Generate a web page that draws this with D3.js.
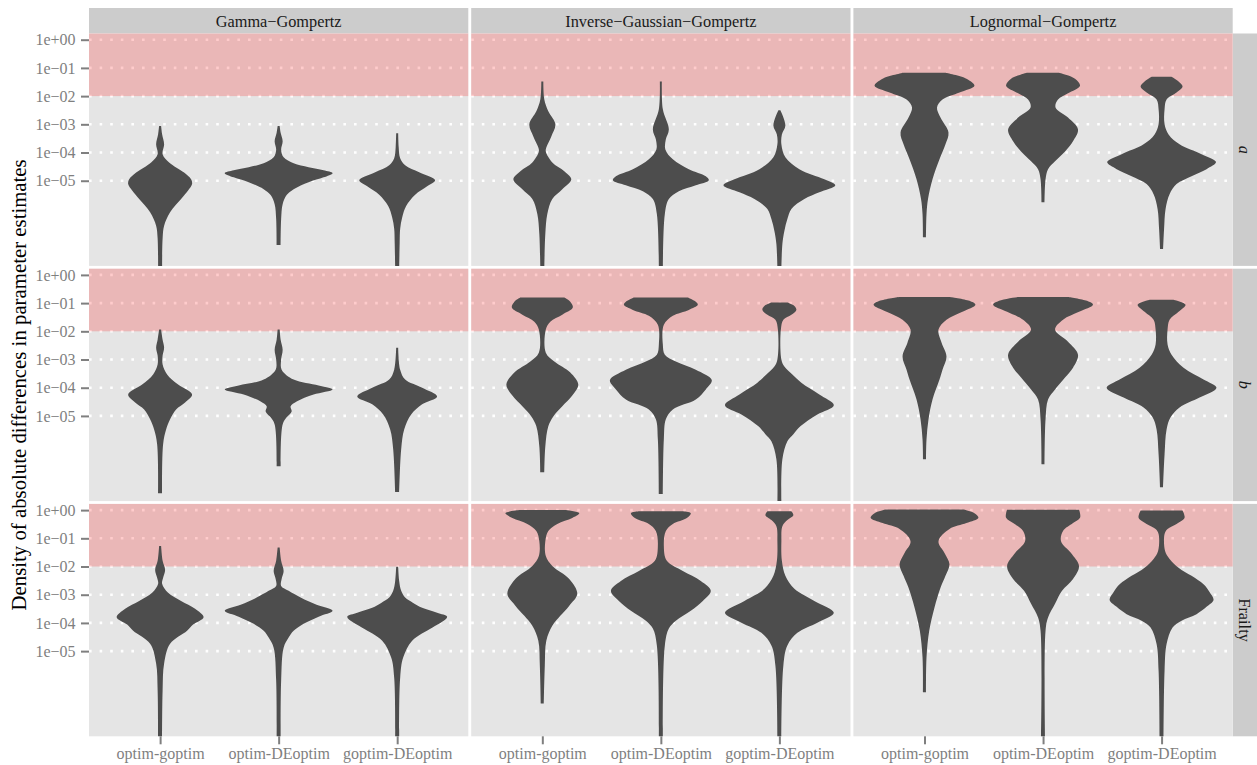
<!DOCTYPE html>
<html>
<head>
<meta charset="utf-8">
<script src="https://cdn.jsdelivr.net/npm/d3@7"></script>
<style>
  body { margin: 0; background: #ffffff; }
  svg { display: block; }
  text { font-family: 'Liberation Serif', 'Times New Roman', serif; }
</style>
</head>
<body>
<svg id="chart" width="1257" height="765"></svg>
<script>
// Facet columns (frailty model) and rows (parameter)
const models = ["Gamma−Gompertz", "Inverse−Gaussian−Gompertz", "Lognormal−Gompertz"];
const parameters = ["a", "b", "Frailty"];
const parameterItalic = [true, true, false];
const methods = ["optim-goptim", "optim-DEoptim", "goptim-DEoptim"];

// Y axis breaks and their labels
const yTicks = [1e0, 1e-1, 1e-2, 1e-3, 1e-4, 1e-5];
const yTickLabels = ["1e+00", "1e−01", "1e−02", "1e−03", "1e−04", "1e−05"];
const threshold = 1e-2;

// Violin profiles: [log10 |difference|, kernel density (relative units)], one per method
const gammaA = [
  [[-3.06,1],[-3.35,2],[-3.71,4],[-4.06,2.5],[-4.35,9],[-4.71,24],[-4.95,31],[-5.12,32],[-5.35,28],[-5.65,21],[-6.12,10],[-6.6,4],[-7.05,2.5],[-8.1,2]],
  [[-3.06,1],[-3.3,2],[-3.6,4],[-3.9,2.5],[-4.17,5],[-4.38,15],[-4.52,30],[-4.63,45],[-4.73,54],[-4.88,45],[-5.05,30],[-5.3,15],[-5.51,8],[-5.83,4],[-6.36,2.5],[-7.28,2]],
  [[-3.32,1],[-3.8,1.5],[-4.2,3],[-4.45,8],[-4.7,22],[-4.98,38],[-5.2,30],[-5.5,18],[-5.9,9],[-6.3,5],[-6.7,3],[-7.2,2.5],[-8.1,2]]
];
const invGaussA = [
  [[-1.48,1],[-2.12,2],[-2.54,6],[-3.0,13],[-3.43,9],[-3.82,4],[-3.96,3.5],[-4.35,10],[-4.66,22],[-4.95,29],[-5.3,20],[-5.65,10],[-6.18,5],[-6.89,3],[-8.1,2]],
  [[-1.48,1],[-2.47,2],[-3.18,8],[-3.53,5],[-3.89,4.5],[-4.24,12],[-4.59,28],[-4.84,45],[-4.98,48],[-5.16,35],[-5.37,18],[-5.65,8],[-6.18,4],[-8.1,2]],
  [[-2.5,1],[-3.04,6],[-3.36,2.5],[-3.71,2],[-4.17,6],[-4.59,20],[-4.95,45],[-5.16,56],[-5.41,40],[-5.65,25],[-6.0,12],[-6.36,8],[-6.78,5],[-7.24,3],[-8.1,2]]
];
const lognormA = [
  [[-1.17,21],[-1.38,42],[-1.63,50],[-1.87,35],[-2.12,18],[-2.4,12.5],[-2.76,16],[-3.29,24],[-3.71,21],[-4.24,15],[-4.95,8],[-5.65,3.5],[-6.18,2],[-7.0,1.5]],
  [[-1.17,16],[-1.38,32],[-1.63,37],[-1.9,25],[-2.12,15],[-2.4,12.5],[-2.76,25],[-3.18,35],[-3.6,30],[-3.96,22],[-4.31,12],[-4.59,5],[-4.95,2.5],[-5.76,1.5]],
  [[-1.31,10],[-1.48,17],[-1.66,21],[-1.87,15],[-2.12,5],[-2.47,3],[-3.0,3],[-3.36,7],[-3.71,18],[-4.06,40],[-4.34,54.5],[-4.59,45],[-4.84,30],[-5.12,15],[-5.48,8],[-6.0,4],[-6.71,2.5],[-7.42,1.5]]
];
const gammaB = [
  [[-1.94,1],[-2.3,2.5],[-2.58,4],[-2.86,2.5],[-3.18,2.5],[-3.53,7],[-3.89,18],[-4.24,32],[-4.52,25],[-4.77,16],[-5.12,10],[-5.48,6],[-6.0,3],[-7.74,2]],
  [[-1.94,1],[-2.3,2],[-2.65,4],[-3.0,2.5],[-3.36,3],[-3.71,15],[-3.92,40],[-4.06,54],[-4.24,35],[-4.49,18],[-4.66,12],[-4.84,13],[-5.05,8],[-5.3,4],[-6.78,2]],
  [[-2.58,1],[-3.36,3],[-3.71,8],[-4.0,25],[-4.31,40],[-4.59,25],[-4.95,14],[-5.48,7],[-6.18,4],[-7.7,2]]
];
const invGaussB = [
  [[-0.8,22],[-0.95,28],[-1.16,30.5],[-1.41,20],[-1.66,8],[-1.94,3.5],[-2.76,3.5],[-3.07,12],[-3.46,28],[-3.89,36],[-4.28,30],[-4.66,20],[-5.02,11],[-5.37,6],[-6.08,3],[-7.0,2]],
  [[-0.8,27],[-0.95,35],[-1.06,37],[-1.24,28],[-1.45,12],[-1.77,3],[-2.47,2],[-2.83,4],[-3.07,15],[-3.36,35],[-3.73,51],[-4.06,45],[-4.42,35],[-4.77,12],[-5.12,5],[-5.83,3],[-7.77,2]],
  [[-0.98,8],[-1.1,15],[-1.24,17],[-1.41,12],[-1.59,4],[-1.94,1.5],[-3.0,2],[-3.25,5],[-3.53,13],[-3.82,22],[-4.24,40],[-4.62,54.5],[-4.95,38],[-5.37,21],[-5.65,14],[-5.9,8],[-6.54,3],[-8.1,2]]
];
const lognormB = [
  [[-0.78,25],[-0.92,45],[-1.06,51],[-1.31,38],[-1.59,22],[-1.94,14],[-2.4,17],[-2.9,22],[-3.36,18],[-3.71,15],[-4.42,8],[-5.12,4],[-5.83,2],[-6.54,1.5]],
  [[-0.78,25],[-0.92,44],[-1.06,50],[-1.31,36],[-1.59,20],[-1.94,12],[-2.37,25],[-2.83,35],[-3.29,30],[-3.64,22],[-4.06,12],[-4.42,5],[-5.12,2.5],[-6.71,1.5]],
  [[-0.88,12],[-1.06,24],[-1.31,17],[-1.59,8],[-1.94,6],[-2.47,6],[-2.83,10],[-3.29,22],[-3.71,42],[-4.0,55],[-4.35,38],[-4.7,18],[-5.05,9],[-5.48,5],[-6.36,3],[-7.53,1.5]]
];
const gammaFrailty = [
  [[-1.27,1],[-1.8,2.5],[-2.12,5],[-2.4,3],[-2.61,2],[-2.93,8],[-3.22,21],[-3.5,35],[-3.8,43.5],[-4.06,33],[-4.28,27],[-4.74,10],[-5.44,4],[-6.4,2.5],[-8.1,2]],
  [[-1.33,1],[-1.8,2.5],[-2.16,5],[-2.44,3],[-2.69,2.5],[-2.86,10],[-3.1,22],[-3.36,38],[-3.57,54],[-3.78,40],[-4.03,25],[-4.28,15],[-4.52,10],[-4.88,5],[-6.04,2.5],[-8.1,2]],
  [[-2.01,1],[-2.51,2],[-2.86,4],[-3.1,8],[-3.29,16],[-3.46,25],[-3.64,40],[-3.78,50],[-3.96,45],[-4.17,35],[-4.63,15],[-5.23,6],[-5.94,3],[-8.1,2]]
];
const invGaussFrailty = [
  [[0.0,23],[-0.11,37],[-0.28,30],[-0.49,15],[-0.74,6],[-1.1,3],[-1.63,3.5],[-1.98,10],[-2.44,27],[-2.97,35],[-3.39,27],[-3.75,18],[-4.1,10],[-4.63,4],[-5.51,2.5],[-6.86,1.5]],
  [[-0.04,22],[-0.11,30],[-0.28,26],[-0.49,12],[-0.74,5],[-1.27,3],[-1.8,6],[-2.16,22],[-2.51,40],[-2.86,50],[-3.22,42],[-3.57,30],[-3.92,15],[-4.2,8],[-4.8,4],[-8.1,2]],
  [[-0.04,12],[-0.18,14],[-0.35,8],[-0.57,3],[-1.1,2],[-1.8,2.5],[-2.33,6],[-2.79,15],[-3.22,35],[-3.64,54.5],[-3.99,38],[-4.35,18],[-4.8,8],[-5.51,4],[-8.1,2]]
];
const lognormFrailty = [
  [[0.02,39],[-0.11,50],[-0.27,54],[-0.46,42],[-0.67,25],[-1.1,14],[-1.52,20],[-1.92,25],[-2.33,21],[-2.75,16],[-3.45,10],[-4.28,4.7],[-5.22,2],[-6.46,1.5]],
  [[0.01,36],[-0.11,37],[-0.27,37],[-0.46,30],[-0.74,20],[-1.1,18],[-1.52,28],[-1.98,36],[-2.44,30],[-2.86,19],[-3.32,12],[-3.81,5],[-4.28,2.5],[-8.1,2]],
  [[-0.01,21],[-0.27,23],[-0.49,15],[-0.67,6],[-0.85,3],[-1.45,3.5],[-1.73,8],[-2.04,17],[-2.33,30],[-2.63,42],[-2.9,48],[-3.19,52],[-3.43,45],[-3.69,35],[-3.92,20],[-4.16,11],[-4.75,5],[-5.7,3],[-8.1,2]]
];

// rows = parameters, columns = models
const panelData = [
  [gammaA, invGaussA, lognormA],
  [gammaB, invGaussB, lognormB],
  [gammaFrailty, invGaussFrailty, lognormFrailty]
];

// ---- layout ----
const svg = d3.select("#chart");
const plotLeft = 89, plotTop = 33.5;
const panelW = 379.3, panelH = 232.4, gapX = 2.9, gapY = 2.8;
const stripTop = 8, stripW = 24.5;
const grey50 = "#7f7f7f";
const serif = "'Liberation Serif', 'Times New Roman', serif";

const x = d3.scalePoint().domain(methods).range([0, panelW]).padding(0.6);
const y = d3.scaleLog().domain([Math.pow(10, -8.02), Math.pow(10, 0.22)]).range([panelH, 0]);
const w = d3.scaleLinear().domain([0, 54]).range([0, 0.455 * x.step()]);

const panelX = c => plotLeft + c * (panelW + gapX);
const panelY = r => plotTop + r * (panelH + gapY);

const violin = cx => d3.area()
  .curve(d3.curveCatmullRom.alpha(0.5))
  .y(d => y(Math.pow(10, d[0])))
  .x0(d => cx - w(d[1]))
  .x1(d => cx + w(d[1]));

const defs = svg.append("defs");

// top strips
models.forEach((m, c) => {
  const g = svg.append("g").attr("transform", `translate(${panelX(c)},${stripTop})`);
  g.append("rect").attr("width", panelW).attr("height", plotTop - stripTop).attr("fill", "#cccccc");
  g.append("text").attr("x", panelW / 2).attr("y", 18.7)
    .attr("text-anchor", "middle").attr("font-size", 16.3).attr("fill", "#1a1a1a").text(m);
});

// right strips
parameters.forEach((p, r) => {
  const g = svg.append("g").attr("transform", `translate(${panelX(2) + panelW},${panelY(r)})`);
  g.append("rect").attr("width", stripW).attr("height", panelH).attr("fill", "#cccccc");
  g.append("text")
    .attr("transform", `translate(${stripW / 2 - 0.5},${panelH / 2}) rotate(90)`)
    .attr("text-anchor", "middle").attr("dy", "0.32em")
    .attr("font-size", 16.3).attr("fill", "#1a1a1a")
    .attr("font-style", parameterItalic[r] ? "italic" : "normal")
    .text(p);
});

// panels
parameters.forEach((p, r) => {
  models.forEach((m, c) => {
    const g = svg.append("g").attr("transform", `translate(${panelX(c)},${panelY(r)})`);
    const clipId = `clip-${r}-${c}`;
    defs.append("clipPath").attr("id", clipId)
      .append("rect").attr("width", panelW).attr("height", panelH);

    g.append("rect").attr("width", panelW).attr("height", panelH).attr("fill", "#e5e5e5");

    // dotted major grid
    g.selectAll("line.grid").data(yTicks).join("line")
      .attr("class", "grid")
      .attr("x1", 0).attr("x2", panelW)
      .attr("y1", d => y(d)).attr("y2", d => y(d))
      .attr("stroke", "#ffffff").attr("stroke-width", 2.6)
      .attr("stroke-dasharray", "2.6 8");

    // region above the tolerance threshold
    g.append("rect")
      .attr("x", 0).attr("width", panelW)
      .attr("y", 0).attr("height", y(threshold))
      .attr("fill", "#ff0000").attr("fill-opacity", 0.2);

    // violins
    const vg = g.append("g").attr("clip-path", `url(#${clipId})`);
    panelData[r][c].forEach((profile, i) => {
      vg.append("path")
        .attr("d", violin(x(methods[i]))(profile))
        .attr("fill", "#4d4d4d");
    });

    // left axis on first column
    if (c === 0) {
      const ax = g.append("g").call(
        d3.axisLeft(y).tickValues(yTicks)
          .tickFormat((d, i) => yTickLabels[i])
          .tickSize(8).tickPadding(5.5)
      );
      ax.select(".domain").remove();
      ax.selectAll("line").attr("stroke", grey50).attr("stroke-width", 2);
      ax.selectAll("text").attr("fill", grey50).attr("font-size", 16).attr("font-family", serif);
    }

    // bottom axis on last row
    if (r === parameters.length - 1) {
      const ax = g.append("g").attr("transform", `translate(0,${panelH})`).call(
        d3.axisBottom(x).tickSize(8).tickPadding(3)
      );
      ax.select(".domain").remove();
      ax.selectAll("line").attr("stroke", grey50).attr("stroke-width", 2);
      ax.selectAll("text").attr("fill", grey50).attr("font-size", 16).attr("font-family", serif);
    }
  });
});

// y axis title
const midY = (panelY(0) + panelY(2) + panelH) / 2;
svg.append("text")
  .attr("transform", `translate(19,${midY}) rotate(-90)`)
  .attr("text-anchor", "middle").attr("dy", "0.35em")
  .attr("font-size", 20.8).attr("fill", "#000000")
  .text("Density of absolute differences in parameter estimates");
</script>
</body>
</html>
